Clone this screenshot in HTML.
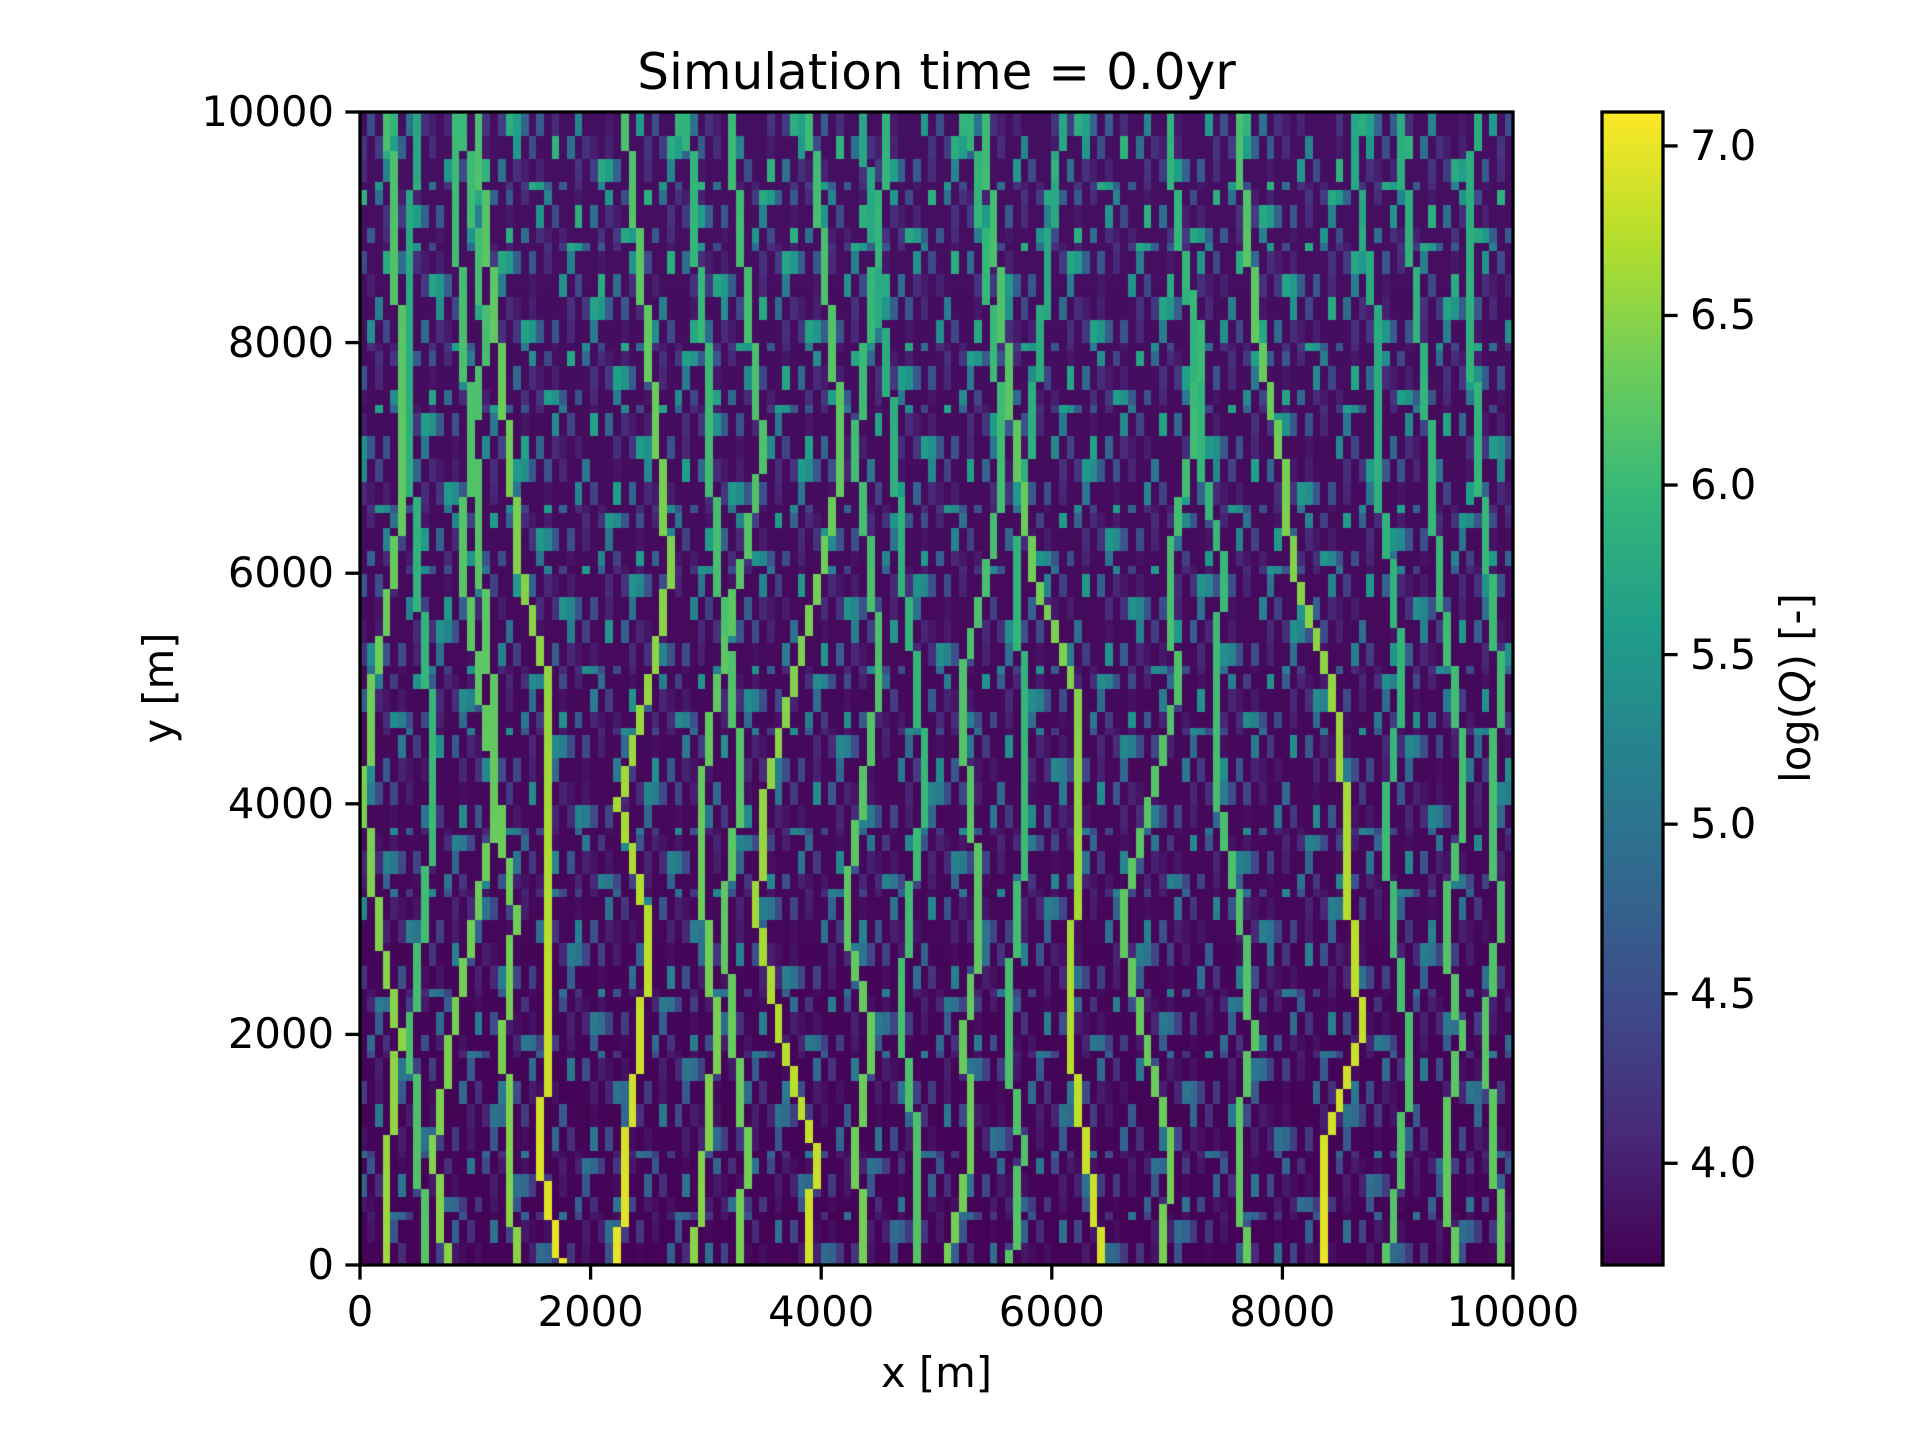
<!DOCTYPE html>
<html><head><meta charset="utf-8"><style>
body{margin:0;background:#fff;}
#wrap{position:relative;width:1920px;height:1440px;font-family:"DejaVu Sans","Liberation Sans",sans-serif;color:#000;}
.t{position:absolute;font-size:41.7px;line-height:1;white-space:nowrap;}
</style></head><body>
<div id="wrap">
<svg id="svg" width="1920" height="1440" style="position:absolute;left:0;top:0"></svg>
<canvas id="heat" width="1153" height="1153" style="position:absolute;left:360px;top:112px"></canvas>
<canvas id="cbar" width="61" height="1153" style="position:absolute;left:1602px;top:112px"></canvas>
</div>
<script>
const yKnots=[0,1000,2000,3000,4000,5000,6000,7000,8000,9000,10000];
const channelValues=[7.0,7.0,6.9,6.9,7.0,6.6,6.5,6.5,6.4,6.4,6.4,6.3,6.3,6.3,6.5,6.4,6.2,6.2,6.2,6.2];
const channelXs=[
[1750,1550,1650,1600,1650,1650,1400,1300,1200,1100,1000],
[2250,2300,2450,2500,2250,2500,2700,2600,2500,2400,2300],
[3900,3950,3650,3450,3500,3750,4000,4200,4100,4000,3900],
[6450,6300,6150,6200,6250,6200,5850,5700,5600,5500,5400],
[8400,8350,8700,8600,8550,8450,8100,8000,7800,7700,7600],
[200,250,350,150,50,100,300,400,350,300,250],
[750,650,800,1000,1200,1050,900,950,1100,1000,900],
[2900,3000,3100,3000,2950,3100,3300,3500,3400,3300,3200],
[4400,4300,4450,4200,4350,4500,4450,4300,4400,4500,4600],
[5100,5300,5250,5400,5300,5200,5450,5600,5500,5400,5300],
[6950,7050,6800,6600,6850,7100,7000,7200,7300,7100,7000],
[7700,7600,7750,7650,7450,7400,7500,7300,7250,7100,7000],
[9500,9400,9550,9400,9600,9500,9350,9300,9200,9100,9000],
[9900,9850,9750,9900,9800,9900,9800,9700,9650,9600,9700],
[1350,1300,1250,1350,1200,1150,1050,1000,900,850,800],
[3300,3350,3250,3150,3300,3250,3100,3050,3000,2900,2850],
[5650,5750,5600,5700,5800,5750,5700,5800,5900,6000,6100],
[8900,9050,9100,8950,8900,9050,8950,8800,8850,8700,8600],
[600,500,450,550,650,600,500,450,400,450,500],
[4800,4850,4700,4750,4900,4850,4700,4650,4550,4450,4350]];
const bgTile=[0,0,0.35,0,1.9,0,0.1,0.7,0,0,2.1,0.3,0,0,1.2,0,0.5,0,0,1.8,0,0.2,0,0.9,0,0,2.2,0,0.4,0,1.5,0,0,0.15,0,1.0,0];
const cbTicks=[4.0,4.5,5.0,5.5,6.0,6.5,7.0];
const axTicks=[0,2000,4000,6000,8000,10000];
const vmin=3.70,vmax=7.10,N=150;
const L=360,T=112,W=1153,H=1153;
const vir=[[68,1,84],[72,40,120],[62,74,137],[49,104,142],[38,130,142],[31,158,137],[53,183,121],[109,205,89],[180,222,44],[253,231,37]];
function color(v){let t=Math.max(0,Math.min(1,(v-vmin)/(vmax-vmin)))*(vir.length-1);let i=Math.min(vir.length-2,Math.floor(t)),f=t-i;
 const c=vir[i].map((a,k)=>Math.round(a+(vir[i+1][k]-a)*f));return `rgb(${c[0]},${c[1]},${c[2]})`;}
const sx=v=>L+v/10000*W, sy=v=>T+H-v/10000*H, scb=v=>H-(v-vmin)/(vmax-vmin)*H;
const grid=[];
for(let j=0;j<N;j++){grid.push([]);for(let i=0;i<N;i++){
 let b=bgTile[(i*31+Math.floor(j/3)*17+Math.floor(j/7)*5)%bgTile.length];
 const up=j/N; grid[j].push(3.72+b*(0.55+0.4*up)+0.12*up);}}
channelXs.forEach((xs,c)=>{for(let j=0;j<N;j++){const y=(j+0.5)*10000/N;const k=Math.min(9,Math.floor(y/1000));const f=(y-yKnots[k])/1000;
 const x=xs[k]+(xs[k+1]-xs[k])*f;const i=Math.min(N-1,Math.floor(x/(10000/N)));
 const v=channelValues[c]-(c>4?(j/N)*0.5:(j/N)*0.9);grid[j][i]=Math.max(grid[j][i],v);}});
const hc=document.getElementById('heat').getContext('2d');const cw=W/N;
for(let j=0;j<N;j++)for(let i=0;i<N;i++){hc.fillStyle=color(grid[j][i]);hc.fillRect(Math.floor(i*cw),Math.floor(H-(j+1)*cw),Math.ceil(cw)+1,Math.ceil(cw)+1);}
const cc=document.getElementById('cbar').getContext('2d');
for(let y=0;y<H;y++){cc.fillStyle=color(vmax-(y+0.5)/H*(vmax-vmin));cc.fillRect(0,y,61,1);}
const svg=document.getElementById('svg'),NS='http://www.w3.org/2000/svg';
function line(x1,y1,x2,y2,name){const e=document.createElementNS(NS,'line');e.setAttribute('x1',x1);e.setAttribute('y1',y1);e.setAttribute('x2',x2);e.setAttribute('y2',y2);e.setAttribute('stroke','#000');e.setAttribute('stroke-width','3.3');


svg.appendChild(e);}
const wrap=document.getElementById('wrap');
function text(s,x,y,name,align,extra){const d=document.createElement('div');d.className='t';d.textContent=s;d.style.left=x+'px';d.style.top=y+'px';
d.style.transform=align;if(extra)Object.assign(d.style,extra);


wrap.appendChild(d);return d;}
axTicks.forEach(v=>{line(sx(v),T+H,sx(v),T+H+14.6,'x-tick');text(String(v),sx(v),T+H+26,'x-tick-label','translateX(-50%)');
 line(L-14.6,sy(v),L,sy(v),'y-tick');text(String(v),L-26,sy(v),'y-tick-label','translate(-100%,-50%)');});
cbTicks.forEach(v=>{const y=T+scb(v);line(1663,y,1677.6,y,'colorbar-tick');text(v.toFixed(1),1690,y,'colorbar-tick-label','translateY(-50%)');});
const fr=document.createElementNS(NS,'rect');fr.setAttribute('x',L);fr.setAttribute('y',T);fr.setAttribute('width',W);fr.setAttribute('height',H);fr.setAttribute('fill','none');fr.setAttribute('stroke','#000');fr.setAttribute('stroke-width','3.3');


svg.appendChild(fr);
const cf=document.createElementNS(NS,'rect');cf.setAttribute('x',1602);cf.setAttribute('y',T);cf.setAttribute('width',61);cf.setAttribute('height',H);cf.setAttribute('fill','none');cf.setAttribute('stroke','#000');cf.setAttribute('stroke-width','3.3');


svg.appendChild(cf);
svg.parentNode.appendChild(svg);
text('Simulation time = 0.0yr',936.5,72,'chart-title','translate(-50%,-50%)',{fontSize:'50px'});
text('x [m]',936.5,1373,'x-axis-title','translate(-50%,-50%)');
text('y [m]',159,688,'y-axis-title','translate(-50%,-50%) rotate(-90deg)');
const cl=text('',1796,688,'colorbar-title','translate(-50%,-50%) rotate(-90deg)');cl.innerHTML='log(<i>Q</i>) [-]';
</script>
</body></html>
